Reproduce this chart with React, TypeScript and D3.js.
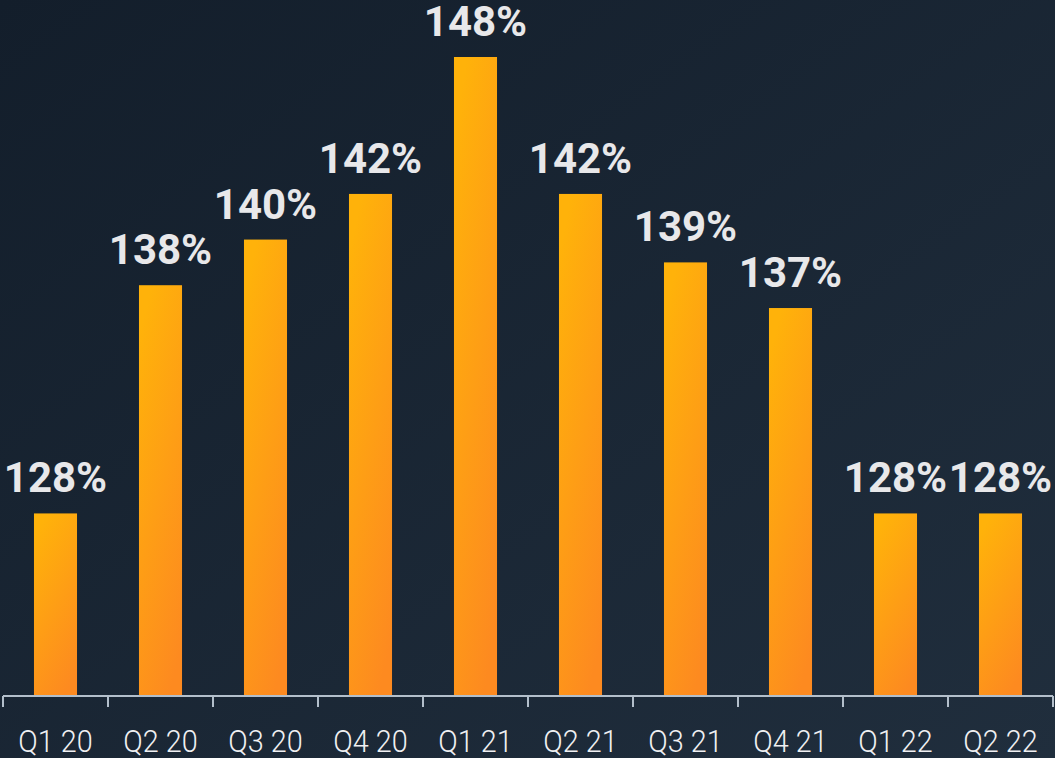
import React from "react";
import * as d3 from "d3";

const categories = ["Q1 20", "Q2 20", "Q3 20", "Q4 20", "Q1 21", "Q2 21", "Q3 21", "Q4 21", "Q1 22", "Q2 22"];
const values = [128, 138, 140, 142, 148, 142, 139, 137, 128, 128];

const W = 1055;
const H = 758;

export default function App() {
  const x = d3.scaleBand<string>().domain(categories).range([3, 1053]).paddingInner(0.59).paddingOuter(0.295);
  const y = d3.scaleLinear().domain([120, 148]).range([696, 57]);
  const step = x.step();
  const x0 = 3;
  return (
    <svg width={W} height={H} style={{ position: "absolute", left: 0, top: 0, display: "block" }}>
      <defs>
        <linearGradient id="bg" x1="0" y1="0" x2="1" y2="1">
          <stop offset="0" stopColor="#131e2b" />
          <stop offset="1" stopColor="#202e3d" />
        </linearGradient>
        <linearGradient id="bar" x1="0.3" y1="0" x2="0.7" y2="1">
          <stop offset="0" stopColor="#ffb20a" />
          <stop offset="1" stopColor="#fd8a20" />
        </linearGradient>
      </defs>
      <rect x={0} y={0} width={W} height={H} fill="url(#bg)" />
      {categories.map((c, i) => {
        const cx = (x(c) as number) + x.bandwidth() / 2;
        return (
          <g key={c}>
            <rect x={x(c)} y={y(values[i])} width={x.bandwidth()} height={y(120) - y(values[i])} fill="url(#bar)" />
            <text
              x={cx}
              y={y(values[i]) - 21}
              textAnchor="middle"
              fontFamily="Roboto"
              fontWeight={700}
              fontSize={42}
              fill="#e8e8ea"
            >
              {values[i]}%
            </text>
            <g transform={`translate(${cx},752) scale(0.9,1)`}>
              <text x={0} y={0} textAnchor="middle" fontFamily="Roboto" fontWeight={300} fontSize={32} fill="#f0f0f2">
                {c}
              </text>
            </g>
          </g>
        );
      })}
      <line x1={x0} x2={1053} y1={696} y2={696} stroke="#b3bfcb" strokeWidth={2} />
      {d3.range(categories.length + 1).map((i) => (
        <line key={i} x1={x0 + i * step} x2={x0 + i * step} y1={696} y2={707} stroke="#b3bfcb" strokeWidth={2} />
      ))}
    </svg>
  );
}
